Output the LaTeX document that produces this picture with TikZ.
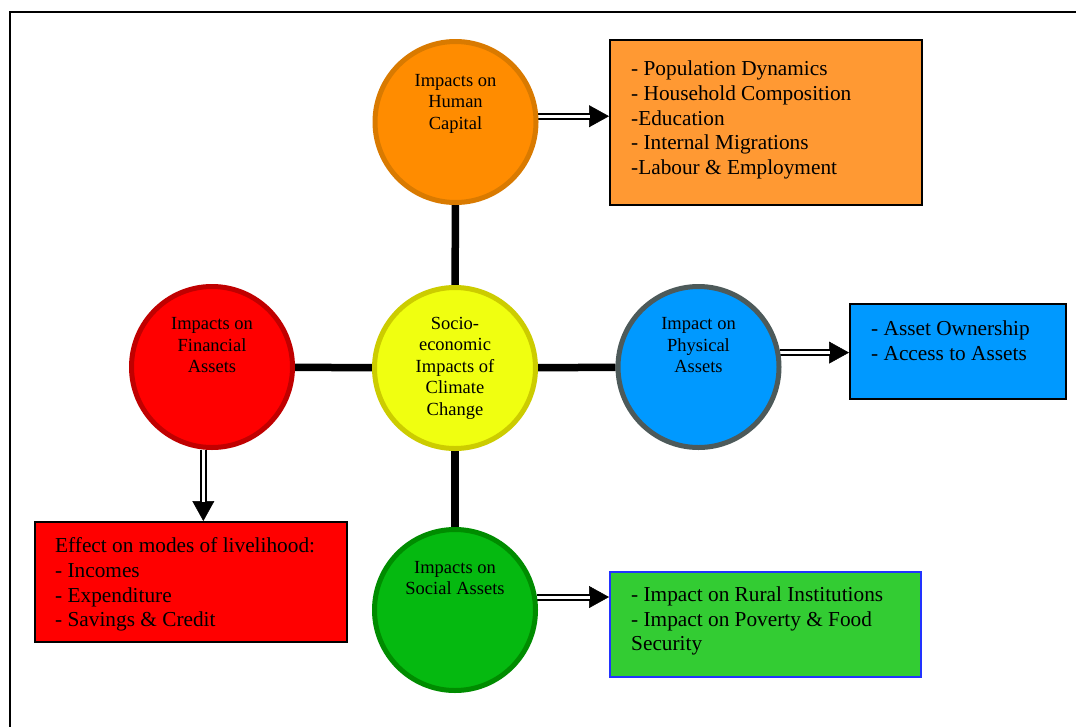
\documentclass[tikz,border=0pt]{standalone}
\usepackage{fontspec}
\setmainfont{Liberation Serif}
\usetikzlibrary{arrows.meta,calc,backgrounds}
\definecolor{hcfill}{HTML}{FF8C00}
\definecolor{hcborder}{HTML}{D97A00}
\definecolor{obfill}{HTML}{FF9933}
\definecolor{ccfill}{HTML}{F0FF10}
\definecolor{ccborder}{HTML}{CCCC00}
\definecolor{fafill}{HTML}{FF0000}
\definecolor{faborder}{HTML}{C00000}
\definecolor{rbfill}{HTML}{FF0000}
\definecolor{pafill}{HTML}{0099FF}
\definecolor{paborder}{HTML}{4D5A5A}
\definecolor{bbfill}{HTML}{0099FF}
\definecolor{safill}{HTML}{05B910}
\definecolor{saborder}{HTML}{008C00}
\definecolor{gbfill}{HTML}{33CC33}
\definecolor{gbborder}{HTML}{2233FF}
\begin{document}
\begin{tikzpicture}[x=1pt,y=-1pt,
  circ/.style={circle,inner sep=0pt,minimum size=161pt,line width=5pt},
  ctext/.style={align=center,font=\fontsize{18.5}{21.5}\selectfont,inner sep=0pt},
  box/.style={rectangle,draw=black,line width=2pt,inner sep=0pt},
  btext/.style={align=left,anchor=west,font=\fontsize{21.3}{24.75}\selectfont,inner sep=0pt},
  conn/.style={line width=7.5pt},
  dbl/.style={double=white,double distance=3pt,line width=2pt,shorten >=19pt},
  tipline/.style={line width=0.5pt,-{Triangle[length=20pt,width=22pt]}}
]
\useasboundingbox (0,0) rectangle (1076,726);
\begin{scope}
\clip (0,0) rectangle (1076,726);
\draw[line width=2pt] (10,740) -- (10,12) -- (1090,12);
\end{scope}
% circles
\node[circ,fill=hcfill,draw=hcborder] (hc) at (455.5,122) {};
\node[circ,fill=ccfill,draw=ccborder] (cc) at (455,368) {};
\node[circ,fill=fafill,draw=faborder] (fa) at (212,367) {};
\node[circ,fill=pafill,draw=paborder] (pa) at (698.5,367) {};
\node[circ,fill=safill,draw=saborder] (sa) at (455,610) {};
% circle texts
\node[ctext] (hct) at (455.5,103.5) {Impacts on\\Human\\Capital};
\node[ctext] (cct) at (455,368) {Socio-\\economic\\Impacts of\\Climate\\Change};
\node[ctext] (fat) at (212,345.5) {Impacts on\\Financial\\Assets};
\node[ctext] (pat) at (698.5,345.5) {Impact on\\Physical\\Assets};
\node[ctext] (sat) at (455,578) {Impacts on\\Social Assets};
% boxes
\node[box,fill=obfill,minimum width=312pt,minimum height=165pt] (ob) at (766,122.5) {};
\node[box,fill=bbfill,minimum width=216pt,minimum height=95pt] (bb) at (958,351.5) {};
\node[box,fill=rbfill,minimum width=312pt,minimum height=120pt] (rb) at (191,582) {};
\node[box,fill=gbfill,draw=gbborder,minimum width=311pt,minimum height=105pt] (gb) at (765.5,624.5) {};
% box texts
\node[btext] (obt) at (631,120) {- Population Dynamics\\- Household Composition\\-Education\\- Internal Migrations\\-Labour \& Employment};
\node[btext] (bbt) at (871,341) {- Asset Ownership\\- Access to Assets};
\node[btext] (rbt) at (55,584.5) {Effect on modes of livelihood:\\- Incomes\\- Expenditure\\- Savings \& Credit};
\node[btext] (gbt) at (631,621) {- Impact on Rural Institutions\\- Impact on Poverty \& Food\\Security};
% connectors
\begin{scope}[on background layer]
\draw[conn] (hc) -- (cc);
\draw[conn] (cc) -- (sa);
\draw[conn] (fa) -- (cc);
\draw[conn] (cc) -- (pa);
\draw[tipline] (hc.4) -- (hc.4 -| ob.west);
\draw[dbl] (hc.4) -- (hc.4 -| ob.west);
\draw[tipline] (pa.10) -- (pa.10 -| bb.west);
\draw[dbl] (pa.10) -- (pa.10 -| bb.west);
\draw[tipline] (sa.9) -- (sa.9 -| gb.west);
\draw[dbl] (sa.9) -- (sa.9 -| gb.west);
\draw[tipline] (fa.-96) -- (fa.-96 |- rb.north);
\draw[dbl] (fa.-96) -- (fa.-96 |- rb.north);
\end{scope}
\end{tikzpicture}
\end{document}
